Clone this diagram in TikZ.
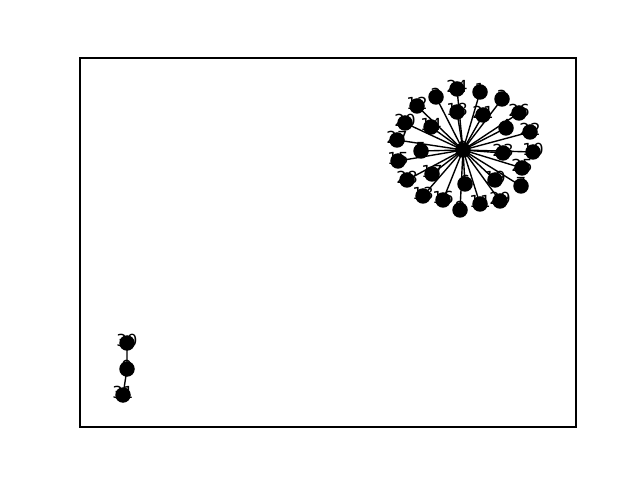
\documentclass[tikz,border=0pt]{standalone}
\usepackage{fontspec}
\setmainfont{DejaVu Sans}
\usepackage{tikz}
\usetikzlibrary{backgrounds}

\begin{document}
\begin{tikzpicture}[
    x=0.254mm, y=-0.254mm,
    font=\fontsize{12}{14}\selectfont,
    vertex/.style={circle, fill=black, inner sep=0pt, minimum size=15.5*0.254mm,
        label={[yshift=0.7mm, inner sep=0pt]center:#1}},
    edge/.style={draw=black, line width=1pt},
]
\useasboundingbox (0,0) rectangle (640,480);
\draw[line width=0.8pt] (80,58) rectangle (576,427);

% star component
\node[vertex=0] (hub) at (463,150) {};
\node[vertex=24] (n1) at (457,89) {};
\node[vertex=1] (n2) at (480,92) {};
\node[vertex=2] (n3) at (436,97) {};
\node[vertex=3] (n4) at (502,99) {};
\node[vertex=12] (n5) at (417,106) {};
\node[vertex=26] (n6) at (519,113) {};
\node[vertex=18] (n7) at (457,112) {};
\node[vertex=21] (n8) at (483,115) {};
\node[vertex=20] (n9) at (405,123) {};
\node[vertex=14] (n10) at (431,127) {};
\node[vertex=4] (n11) at (506,128) {};
\node[vertex=22] (n12) at (530,132) {};
\node[vertex=27] (n13) at (397,140) {};
\node[vertex=5] (n14) at (421,151) {};
\node[vertex=23] (n15) at (503,153) {};
\node[vertex=10] (n16) at (533,152) {};
\node[vertex=15] (n17) at (398,161) {};
\node[vertex=25] (n18) at (522,168) {};
\node[vertex=17] (n19) at (432,174) {};
\node[vertex=28] (n20) at (407,180) {};
\node[vertex=6] (n21) at (465,184) {};
\node[vertex=19] (n22) at (495,180) {};
\node[vertex=7] (n23) at (521,186) {};
\node[vertex=13] (n24) at (423,196) {};
\node[vertex=16] (n25) at (443,200) {};
\node[vertex=11] (n26) at (480,204) {};
\node[vertex=29] (n27) at (500,201) {};
\node[vertex=8] (n28) at (460,210) {};

% path component
\node[vertex=30] (p1) at (127,343) {};
\node[vertex=9] (p2) at (127,369) {};
\node[vertex=31] (p3) at (123,395) {};

\begin{pgfonlayer}{background}
\foreach \i in {1,...,28}
    \draw[edge] (hub.center) -- (n\i.center);
\draw[edge] (p1.center) -- (p2.center) -- (p3.center);
\end{pgfonlayer}
\end{tikzpicture}
\end{document}
